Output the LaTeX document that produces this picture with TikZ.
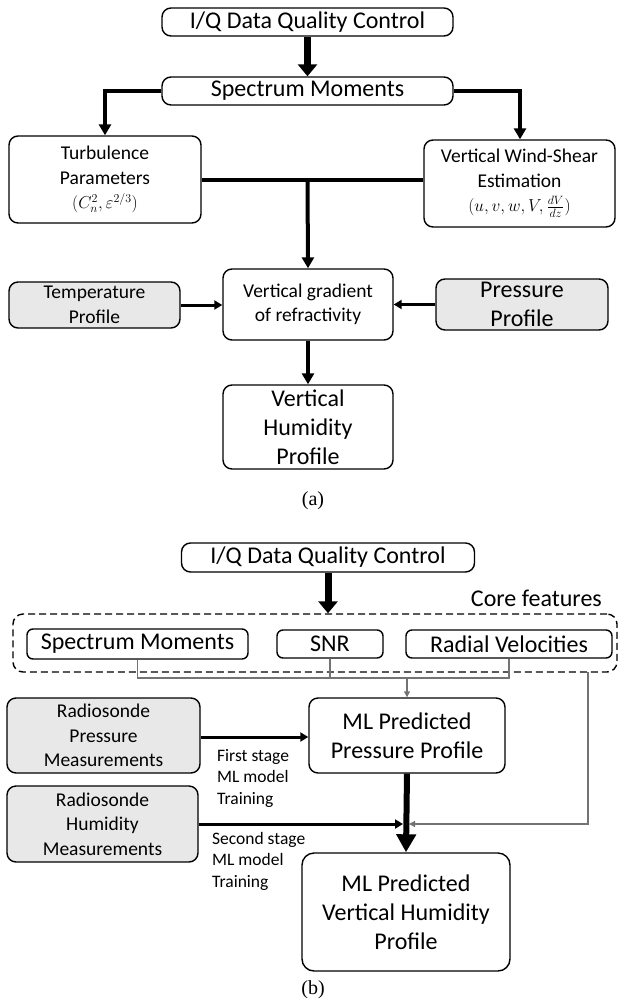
\documentclass[tikz,border=0pt]{standalone}
\usepackage{fontspec}
\setmainfont{Carlito}
\newfontfamily\capfont{Liberation Serif}
\usetikzlibrary{arrows.meta,calc}
\definecolor{boxgray}{gray}{0.91}
\definecolor{linegray}{gray}{0.45}
\newcommand{\fml}[1]{{\fontsize{18.5}{24.5}\selectfont$#1$}}
\tikzset{
  box/.style={draw=black,line width=1.4pt,rounded corners=9pt,align=center,inner sep=0pt,fill=white},
  gbox/.style={box,fill=boxgray},
  fs24/.style={font=\fontsize{24}{29}\selectfont},
  fs20/.style={font=\fontsize{19.5}{24.5}\selectfont},
  fs17/.style={font=\fontsize{17.5}{21.5}\selectfont},
  bigarrow/.style={line width=7pt,-{Triangle[width=19pt,length=12pt]}},
  medarrow/.style={line width=4pt,-{Triangle[width=12pt,length=11pt]}},
  smallarrow/.style={line width=3pt,-{Triangle[width=9pt,length=8pt]}},
  grayline/.style={draw=linegray,line width=1.3pt},
  grayarrow/.style={grayline,-{Triangle[width=6pt,length=6pt]}},
}
\begin{document}
\begin{tikzpicture}[x=1pt,y=-1pt]
\useasboundingbox (0,0) rectangle (619,1002);
% ---------- (a) ----------
\node[box,fs24,minimum width=291pt,minimum height=28pt] (iqA) at (307.5,22) {I/Q Data Quality Control};
\node[box,fs24,minimum width=291pt,minimum height=28pt] (smA) at (307.5,91) {Spectrum Moments};
\node[box,fs20,minimum width=192pt,minimum height=87pt] (turb) at (105,179.5) {Turbulence\\Parameters\\\fml{(C_n^2,\varepsilon^{2/3})}};
\node[box,fs20,minimum width=191pt,minimum height=87pt] (wind) at (519.5,183.5) {Vertical Wind-Shear\\Estimation\\\fml{(u,v,w,V,\frac{dV}{dz})}};
\node[box,fs20,minimum width=170pt,minimum height=71pt] (grad) at (308,304.5) {Vertical gradient\\of refractivity};
\node[gbox,fs20,minimum width=171pt,minimum height=46pt] (temp) at (94.5,305) {Temperature\\Profile};
\node[gbox,fs24,minimum width=172pt,minimum height=51pt] (pres) at (522,304.5) {Pressure\\Profile};
\node[box,fs24,minimum width=170pt,minimum height=84pt] (hum) at (308,427) {Vertical\\Humidity\\Profile};
\node[font=\capfont\fontsize{20}{24}\selectfont] (capA) at (313,501) {(a)};
\coordinate (jA) at (307.5,180);
\draw[bigarrow] (iqA.south) -- (smA.north);
\draw[medarrow] (smA.west) -| (turb.north);
\draw[medarrow] (smA.east) -| (wind.north -| 520,0);
\draw[line width=4pt] (turb.east |- jA) -- (wind.west |- jA);
\draw[medarrow] (jA) -- (grad.north);
\draw[smallarrow] (temp.east) -- (grad.west |- temp.east);
\draw[smallarrow] (pres.west) -- (grad.east |- pres.west);
\draw[medarrow] (grad.south) -- (hum.north);
% ---------- (b) ----------
\node[box,fs24,minimum width=293pt,minimum height=29pt] (iqB) at (328,557.5) {I/Q Data Quality Control};
\node[fs24,anchor=east,inner sep=0pt] (coretxt) at (602,598) {Core features};
\node[draw=black,line width=1.4pt,dashed,dash pattern=on 7pt off 4pt,rounded corners=10pt,minimum width=604pt,minimum height=58pt,inner sep=0pt] (core) at (315,643) {};
\node[box,fs24,rounded corners=6pt,minimum width=221pt,minimum height=30pt] (smB) at (137.5,644) {Spectrum Moments};
\node[box,fs24,rounded corners=6pt,minimum width=106pt,minimum height=28pt] (snr) at (330,644) {SNR};
\node[box,fs24,rounded corners=6pt,minimum width=206pt,minimum height=28pt] (rad) at (509,644) {Radial Velocities};
\node[box,fs24,minimum width=196pt,minimum height=75pt] (mlp) at (407,735.5) {ML Predicted\\Pressure Profile};
\node[gbox,fs20,minimum width=193pt,minimum height=75pt] (rsp) at (103.5,735.5) {Radiosonde\\Pressure\\Measurements};
\node[gbox,fs20,minimum width=191pt,minimum height=76pt] (rsh) at (102.5,824) {Radiosonde\\Humidity\\Measurements};
\node[box,fs24,rounded corners=12pt,minimum width=208pt,minimum height=118pt] (mlh) at (406,912) {ML Predicted\\Vertical Humidity\\Profile};
\node[fs17,align=left,anchor=west,inner sep=0pt] (lab1) at (217,778) {First stage\\ML model\\Training};
\node[fs17,align=left,anchor=west,inner sep=0pt] (lab2) at (212,861) {Second stage\\ML model\\Training};
\node[font=\capfont\fontsize{20}{24}\selectfont] (capB) at (313,990) {(b)};
\coordinate (jB) at (407,678);
\coordinate (rg) at (588,672);
\coordinate (mB) at (407,824);
\draw[bigarrow] (iqB.south -| 328,0) -- (core.north -| 328,0);
\draw[grayline] (smB.south) |- (jB) -| (rad.south);
\draw[grayline] (snr.south) -- (snr.south |- jB);
\draw[grayarrow] (jB) -- (mlp.north);
\draw[grayarrow] (rg) |- ($(mB)+(2,0)$);
\draw[smallarrow] (rsp.east |- 0,737) -- (mlp.west |- 0,737);
\draw[smallarrow] (rsh.east |- mB) -- ($(mB)+(-4,0)$);
\draw[line width=6pt,-{Triangle[width=19pt,length=18pt]}] (mlp.south) -- (mlh.north);
\end{tikzpicture}
\end{document}
